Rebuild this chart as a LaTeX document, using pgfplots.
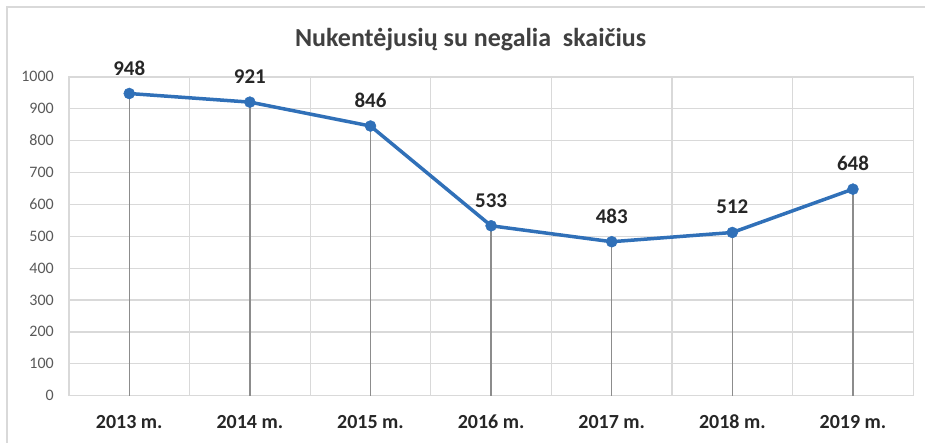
\documentclass[border=0pt]{standalone}
\usepackage{pgfplots}
\pgfplotsset{compat=1.18}
\usepackage{fontspec}
\setmainfont{Carlito}

\definecolor{gridgray}{HTML}{D9D9D9}
\definecolor{dropgray}{HTML}{8C8C8C}
\definecolor{lineblue}{HTML}{3070B8}
\definecolor{ticktext}{HTML}{595959}
\definecolor{labeltext}{HTML}{262626}
\definecolor{titletext}{HTML}{404040}

\begin{document}
\begin{tikzpicture}
\path (0,0) rectangle (926bp,443bp);
% chart frame (cut off at right and bottom)
\draw[gridgray, line width=1.5bp] (7bp,0) -- (7bp,436bp) -- (926bp,436bp);

\node[anchor=base, text=titletext, font=\fontsize{26bp}{30bp}\selectfont\bfseries]
  at (471bp,396bp) {Nukentėjusių su negalia\ \ skaičius};

\begin{axis}[
    at={(69bp,47bp)}, anchor=south west,
    scale only axis,
    width=845bp, height=319bp,
    xmin=-0.5, xmax=6.5,
    ymin=0, ymax=1000,
    xtick={0,...,6},
    xticklabels={2013 m., 2014 m., 2015 m., 2016 m., 2017 m., 2018 m., 2019 m.},
    minor xtick={-0.5,0.5,...,6.5},
    ytick={0,100,...,1000},
    major tick length=0, minor tick length=0,
    xmajorgrids=false, xminorgrids=true, ymajorgrids=true,
    grid style={gridgray, line width=1.2bp},
    minor grid style={gridgray, line width=1.2bp},
    axis line style={gridgray, line width=1.2bp},
    /pgf/number format/assume math mode=true,
    /pgf/number format/set thousands separator={},
    yticklabel style={font=\fontsize{16bp}{19bp}\selectfont, text=ticktext, anchor=base east, inner sep=0pt, xshift=-15bp, yshift=-5bp},
    xticklabel style={font=\fontsize{20bp}{24bp}\selectfont\bfseries, text=labeltext, anchor=base, inner sep=0pt, yshift=-33bp},
    clip=false,
]
% drop lines
\addplot[ycomb, dropgray, line width=1.4bp, no marks] coordinates {
    (0,948) (1,921) (2,846) (3,533) (4,483) (5,512) (6,648)
};
% main series
\addplot[lineblue, line width=3.5bp, mark=*, mark size=5.5bp,
    mark options={fill=lineblue, draw=lineblue, line width=0.5bp},
    nodes near coords,
    nodes near coords style={anchor=base, yshift=18.5bp, inner sep=0pt,
        font=\fontsize{21bp}{25bp}\selectfont\bfseries, text=labeltext},
] coordinates {
    (0,948) (1,921) (2,846) (3,533) (4,483) (5,512) (6,648)
};
\end{axis}
\end{tikzpicture}
\end{document}
